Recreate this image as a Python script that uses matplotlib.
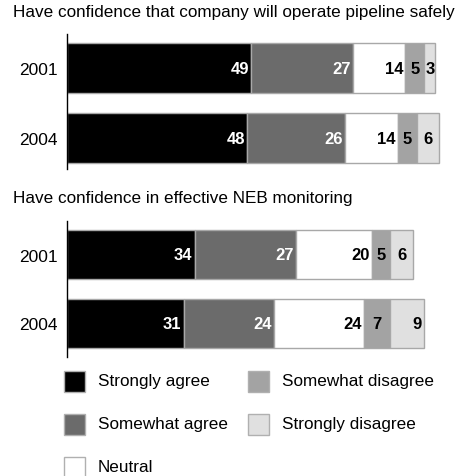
import matplotlib.pyplot as plt
from matplotlib.patches import Rectangle

plt.rcParams['font.family'] = ['Liberation Sans', 'DejaVu Sans']

years = ['2001', '2004']
categories = ['Strongly agree', 'Somewhat agree', 'Neutral', 'Somewhat disagree', 'Strongly disagree']
colors = ['#000000', '#6b6b6b', '#ffffff', '#a3a3a3', '#e0e0e0']
text_colors = ['white', 'white', 'black', 'black', 'black']

pipeline_title = 'Have confidence that company will operate pipeline safely'
pipeline = [[49, 27, 14, 5, 3],
            [48, 26, 14, 5, 6]]

neb_title = 'Have confidence in effective NEB monitoring'
neb = [[34, 27, 20, 5, 6],
       [31, 24, 24, 7, 9]]

W, H = 464, 477
fig = plt.figure(figsize=(W / 100, H / 100), dpi=100)


def panel(top, bottom, values, title, ylim):
    ax = fig.add_axes([67 / W, 1 - bottom / H, 376 / W, (bottom - top) / H])
    for i, row in enumerate(values):
        left = 0
        for j, v in enumerate(row):
            ax.barh(i, v, left=left, height=0.72, color=colors[j],
                    edgecolor='#a8a8a8', linewidth=1)
            # narrow segments get a centred label, wider ones sit at the right end
            if v <= 7:
                ax.text(left + v / 2, i, str(v), ha='center', va='center',
                        color=text_colors[j], fontsize=12, fontweight='bold')
            else:
                ax.text(left + v - 0.6, i, str(v), ha='right', va='center',
                        color=text_colors[j], fontsize=12, fontweight='bold')
            left += v
    ax.set_xlim(0, 100)
    ax.set_ylim(ylim[1], ylim[0])
    ax.set_yticks(range(len(years)))
    ax.set_yticklabels(years, fontsize=12.5)
    ax.tick_params(axis='y', length=0, pad=7)
    ax.set_xticks([])
    for s in ['top', 'right', 'bottom']:
        ax.spines[s].set_visible(False)
    ax.spines['left'].set_linewidth(1)
    fig.text(13 / W, 1 - (top - 23) / H, title, fontsize=12.3, va='center', ha='left')
    return ax


panel(35, 170, pipeline, pipeline_title, (-0.49, 1.44))
panel(222, 358, neb, neb_title, (-0.49, 1.49))

# legend drawn as squares in figure pixel space
legend_pos = [(64, 382), (64, 425), (64, 468), (248, 382), (248, 425)]
for (x, y), lab, c in zip(legend_pos, categories, colors):
    fig.patches.append(Rectangle((x / W, 1 - (y + 10.5) / H), 21 / W, 21 / H,
                                 facecolor=c, edgecolor='#b0b0b0', linewidth=1,
                                 transform=fig.transFigure, figure=fig))
    fig.text((x + 34) / W, 1 - y / H, lab, fontsize=12.3, va='center', ha='left')

fig.savefig('out.png', dpi=100)
